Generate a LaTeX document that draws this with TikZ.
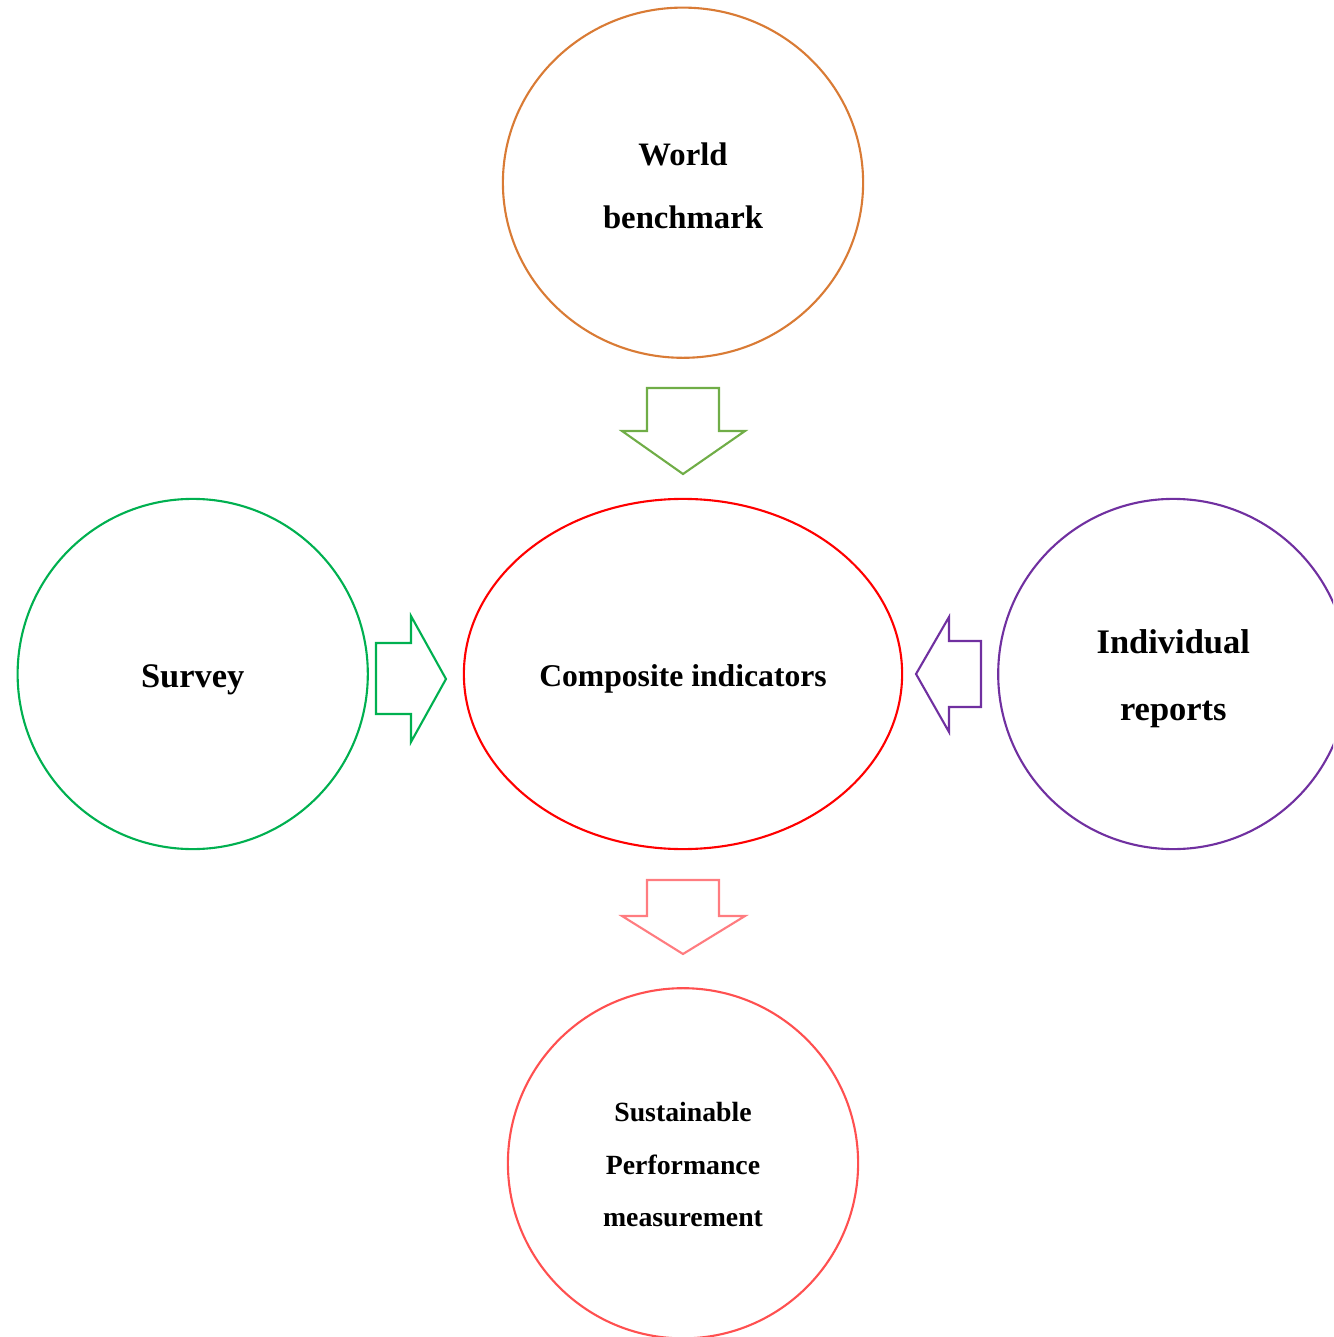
\documentclass[tikz,border=0pt]{standalone}
\usepackage{fontspec}
\setmainfont{Liberation Serif}
\usetikzlibrary{shapes.geometric,positioning}
\definecolor{benchcol}{HTML}{D97B35}
\definecolor{arrowgreen}{HTML}{70AD47}
\definecolor{surveycol}{HTML}{00B050}
\definecolor{reportcol}{HTML}{7030A0}
\definecolor{arrowpink}{HTML}{FF7C80}
\definecolor{sustcol}{HTML}{FF5050}

\begin{document}
\begin{tikzpicture}[x=0.01cm,y=-0.01cm,font=\bfseries]
    \tikzstyle{bubble}=[draw, ellipse, line width=0.6pt, inner sep=0pt, minimum width=3.5cm, minimum height=3.5cm, align=center, on grid]
    \tikzstyle{blockarrow}=[line width=0.6pt, line join=miter]

    \useasboundingbox (0,0) rectangle (1333,1337);
    \clip (0,0) rectangle (1333,1337);

    \node[bubble,draw=red,minimum width=4.38cm,font=\bfseries\fontsize{9}{11}\selectfont] (composite) at (683,674) {\rule{0pt}{8.9pt}Composite indicators};

    \node[bubble,draw=benchcol,minimum width=3.6cm,above=4.91cm of composite,font=\bfseries\fontsize{9.3}{17.9}\selectfont] (benchmark) {\rule{0pt}{8pt}World\\benchmark};
    \node[bubble,draw=surveycol,left=4.9cm of composite,font=\bfseries\fontsize{9.8}{19}\selectfont] (survey) {\rule{0pt}{10pt}Survey};
    \node[bubble,draw=reportcol,right=4.9cm of composite,font=\bfseries\fontsize{9.8}{19}\selectfont] (reports) {\rule{0pt}{9.5pt}Individual\\reports};
    \node[bubble,draw=sustcol,below=4.89cm of composite,font=\bfseries\fontsize{7.9}{15}\selectfont] (sustainable) {\rule{0pt}{6.2pt}Sustainable\\Performance\\measurement};

    % block arrows
    \draw[blockarrow,arrowgreen] (647,388) -- (719,388) -- (719,431) -- (745,431) -- (683,474) -- (622,431) -- (647,431) -- cycle;
    \draw[blockarrow,surveycol] (376,643) -- (411,643) -- (411,616) -- (446,679) -- (411,742) -- (411,714) -- (376,714) -- cycle;
    \draw[blockarrow,reportcol] (981,641) -- (949,641) -- (949,617) -- (916,674) -- (949,732) -- (949,707) -- (981,707) -- cycle;
    \draw[blockarrow,arrowpink] (647,880) -- (719,880) -- (719,916) -- (745,916) -- (683,954) -- (622,916) -- (647,916) -- cycle;
\end{tikzpicture}
\end{document}
